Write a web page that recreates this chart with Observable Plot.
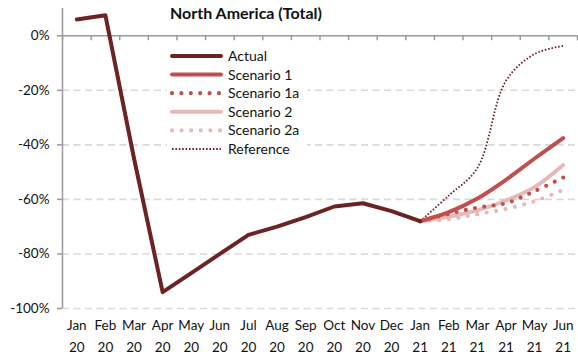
<!DOCTYPE html>
<html>
<head>
<meta charset="utf-8">
<script src="https://cdn.jsdelivr.net/npm/d3@7"></script>
<script src="https://cdn.jsdelivr.net/npm/@observablehq/plot@0.6"></script>
<style>
  body { margin: 0; background: #fff; }
  #wrap { position: relative; width: 578px; height: 357px; font-family: Lato, "Open Sans", sans-serif; }
  #title { position: absolute; left: 170px; top: 3px; font-weight: bold; font-size: 16px; color: #111; white-space: nowrap; }
  #legend { position: absolute; left: 167px; top: 46px; width: 140px; height: 112px; background: #fff; }
</style>
</head>
<body>
<div id="wrap">
  <div id="chart"></div>
  <div id="title">North America (Total)</div>
  <div id="legend"></div>
</div>
<script>
// ---- data ----
const months = ["Jan","Feb","Mar","Apr","May","Jun","Jul","Aug","Sep","Oct","Nov","Dec","Jan","Feb","Mar","Apr","May","Jun"];
const years  = ["20","20","20","20","20","20","20","20","20","20","20","20","21","21","21","21","21","21"];
const actual      = [6, 7.5, -45, -94, -87, -80, -73, -70, -66.5, -62.6, -61.4, -64.3, -68];
const scenario1   = [-68, -64.7, -59.7, -52.8, -45, -37.5];
const scenario1a  = [-68, -65.3, -63, -61.4, -57, -52];
const scenario2   = [-68, -66.3, -64, -60.4, -55.5, -47.4];
const scenario2a  = [-68, -67.3, -65.4, -63.5, -60.7, -56.5];
const reference   = [-68, -58.6, -48.5, -16.5, -6.7, -3.7];
const yTicks = [0, -20, -40, -60, -80, -100];
const forecastStart = 12; // index of Jan 21

const seriesDefs = [
  {name: "Actual",      values: actual,     start: 0,             color: "#6b2423", width: 4,   dash: null,    cap: "round", curve: "linear"},
  {name: "Scenario 1",  values: scenario1,  start: forecastStart, color: "#c0504d", width: 4,   dash: null,    cap: "round", curve: "catmull-rom"},
  {name: "Scenario 1a", values: scenario1a, start: forecastStart, color: "#c0504d", width: 4.2, dash: "0,9.4", cap: "round", curve: "catmull-rom"},
  {name: "Scenario 2",  values: scenario2,  start: forecastStart, color: "#e6b9b8", width: 4,   dash: null,    cap: "round", curve: "catmull-rom"},
  {name: "Scenario 2a", values: scenario2a, start: forecastStart, color: "#e6b9b8", width: 4.2, dash: "0,9.6", cap: "round", curve: "catmull-rom"},
  {name: "Reference",   values: reference,  start: forecastStart, color: "#6b2423", width: 1.8, dash: "1.6,1.8", cap: "butt", curve: "catmull-rom"}
];

const rows = seriesDefs.map(s => s.values.map((v, i) => ({series: s.name, i: s.start + i, v})));
const boundaries = d3.range(-0.5, months.length, 1);

const lineMarks = seriesDefs.slice().reverse().map((s, k) =>
  Plot.line(rows[seriesDefs.length - 1 - k], {
    x: "i", y: "v", stroke: s.color, strokeWidth: s.width,
    strokeDasharray: s.dash, strokeLinecap: s.cap, strokeLinejoin: "round", curve: s.curve
  })
);

const chart = Plot.plot({
  width: 578,
  height: 357,
  marginLeft: 62,
  marginRight: 1,
  marginTop: 8,
  marginBottom: 49,
  style: {fontFamily: "Lato, 'Open Sans', sans-serif", fontSize: "13.5px", color: "#111", background: "#fff"},
  x: {type: "linear", domain: [-0.5, months.length - 0.5], axis: null, label: null},
  y: {domain: [-100, 10], axis: null, label: null},
  marks: [
    Plot.ruleY(yTicks.filter(d => d !== 0), {stroke: "#d9d9d9", strokeWidth: 1.6, strokeDasharray: "7,4.5"}),
    Plot.ruleY([0], {stroke: "#9a9a9a", strokeWidth: 1.5}),
    Plot.ruleX([-0.5], {stroke: "#9a9a9a", strokeWidth: 1.5}),
    Plot.ruleX(boundaries, {y1: 0, y2: -1.8, stroke: "#9a9a9a", strokeWidth: 1.5}),
    Plot.axisY({ticks: yTicks, label: null, tickSize: 5, tickPadding: 8, tickFormat: d => d + "%", stroke: "#9a9a9a", strokeWidth: 1.5, fontSize: 13.5, fill: "#111"}),
    Plot.axisX({anchor: "bottom", label: null, ticks: d3.range(months.length), tickSize: 0, tickPadding: 12, tickFormat: i => months[i], fontSize: 13.5, fill: "#111"}),
    Plot.axisX({anchor: "bottom", label: null, ticks: d3.range(months.length), tickSize: 0, tickPadding: 34, tickFormat: i => years[i], fontSize: 13.5, fill: "#111"}),
    ...lineMarks
  ]
});
document.getElementById("chart").appendChild(chart);

// ---- legend ----
const leg = d3.select("#legend").append("svg").attr("width", 140).attr("height", 112)
  .style("font-family", "Lato, 'Open Sans', sans-serif").style("font-size", "14px");
seriesDefs.forEach((s, k) => {
  const y = 10 + k * 18.6;
  leg.append("line").attr("x1", 5).attr("x2", 54).attr("y1", y).attr("y2", y)
    .attr("stroke", s.color).attr("stroke-width", s.width)
    .attr("stroke-dasharray", s.dash).attr("stroke-linecap", s.cap);
  leg.append("text").attr("x", 61).attr("y", y).attr("dy", "0.35em").attr("fill", "#111").text(s.name);
});
</script>
</body>
</html>
